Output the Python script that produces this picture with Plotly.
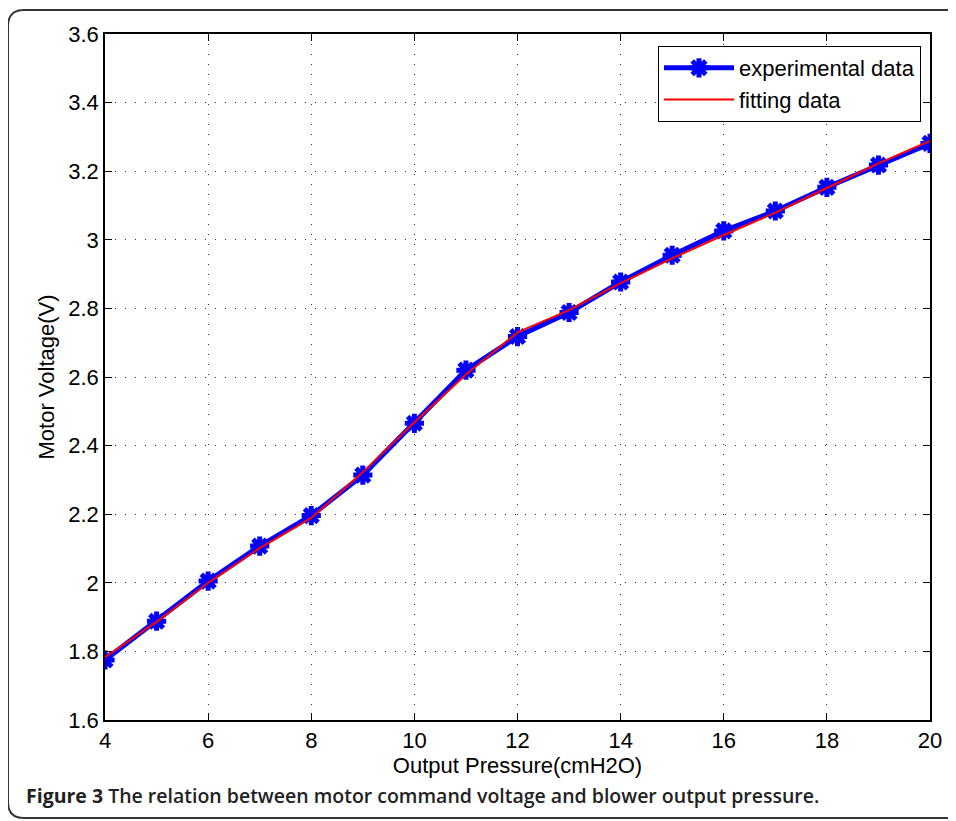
import plotly.graph_objects as go

pressure = [4, 5, 6, 7, 8, 9, 10, 11, 12, 13, 14, 15, 16, 17, 18, 19, 20]
experimental = [1.775, 1.888, 2.005, 2.107, 2.196, 2.314, 2.465, 2.620, 2.718, 2.788,
                2.877, 2.955, 3.026, 3.084, 3.153, 3.218, 3.281]
fitting = [1.783, 1.886, 2.000, 2.101, 2.189, 2.322, 2.468, 2.607, 2.730, 2.795,
           2.874, 2.946, 3.014, 3.079, 3.151, 3.223, 3.288]

OFF = 8  # page body margin
W, H = 956 - OFF, 821 - OFF
L, R, T, B = 105 - OFF, 930 - OFF, 34 - OFF, 720 - OFF  # plot area in figure pixels
pw, ph = R - L, B - T

def px(x):
    # x given in screen pixels
    return (x - OFF - L) / pw

def py(y):
    return (B - (y - OFF)) / ph

FONT = "Liberation Sans, Arial, sans-serif"

fig = go.Figure()
fig.add_trace(go.Scatter(
    x=pressure, y=experimental, name="experimental data", mode="lines+markers",
    line=dict(color="#0000ff", width=5),
    marker=dict(symbol="asterisk", size=16, color="#0000ff",
                line=dict(color="#0000ff", width=5)),
))
fig.add_trace(go.Scatter(
    x=pressure, y=fitting, name="fitting data", mode="lines",
    line=dict(color="#ff0000", width=2),
))

axis_common = dict(
    showline=True, linecolor="black", linewidth=1.5, mirror="allticks",
    ticks="inside", ticklen=7, tickwidth=1, tickcolor="black",
    showgrid=True, gridcolor="#333333", gridwidth=1, griddash="1px,9px",
    zeroline=False,
    tickfont=dict(family=FONT, size=22, color="black"),
)

fig.update_xaxes(range=[4, 20], dtick=2, tick0=4,
                 title=dict(text="Output Pressure(cmH2O)", standoff=4,
                            font=dict(family=FONT, size=22, color="black")),
                 **axis_common)
fig.update_yaxes(range=[1.6, 3.6], dtick=0.2, tick0=1.6,
                 title=dict(text="Motor Voltage(V)", standoff=8,
                            font=dict(family=FONT, size=22, color="black")),
                 **axis_common)

# rounded outer frame
x0, x1 = px(8), px(975)
y0, y1 = py(818), py(10)
rx, ry = 16 / pw, 16 / ph
path = (f"M{x0},{y0 + ry} L{x0},{y1 - ry} Q{x0},{y1} {x0 + rx},{y1} "
        f"L{x1 - rx},{y1} Q{x1},{y1} {x1},{y1 - ry} L{x1},{y0 + ry} "
        f"Q{x1},{y0} {x1 - rx},{y0} L{x0 + rx},{y0} Q{x0},{y0} {x0},{y0 + ry} Z")
fig.add_shape(type="path", path=path, xref="paper", yref="paper",
              line=dict(color="#333333", width=2), layer="below")

fig.add_annotation(
    x=px(24), y=py(811), xref="paper", yref="paper", xanchor="left", yanchor="bottom",
    showarrow=False,
    text="<b>Figure 3</b> The relation between motor command voltage and blower output pressure.",
    font=dict(family="Open Sans, sans-serif", size=19.5, color="#222222", weight=600),
)

fig.update_layout(
    width=W, height=H,
    margin=dict(l=L, r=W - R, t=T, b=H - B, pad=0),
    paper_bgcolor="white", plot_bgcolor="white",
    showlegend=True,
    legend=dict(
        x=px(921), y=py(46), xanchor="right", yanchor="top",
        bgcolor="white", bordercolor="black", borderwidth=1,
        font=dict(family=FONT, size=22, color="black"),
        itemwidth=70, tracegroupgap=0,
    ),
)

fig.write_html("out.html")
